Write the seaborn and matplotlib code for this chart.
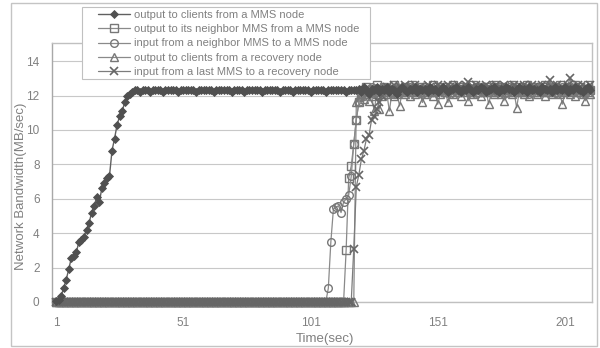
import matplotlib
matplotlib.use("Agg")
import matplotlib.pyplot as plt
import seaborn as sns

time_sec = list(range(1, 212))
x_ticks = [1, 51, 101, 151, 201]
y_ticks = [0, 2, 4, 6, 8, 10, 12, 14]

labels = [
    "output to clients from a MMS node",
    "output to its neighbor MMS from a MMS node",
    "input from a neighbor MMS to a MMS node",
    "output to clients from a recovery node",
    "input from a last MMS to a recovery node",
]

out_clients_mms = [
    0.05, 0.1, 0.35, 0.8, 1.3, 1.9, 2.55, 2.7, 2.9, 3.5, 3.6, 3.8, 4.2, 4.6, 5.2, 5.6,
    6.1, 5.8, 6.6, 6.9, 7.2, 7.3, 8.8, 9.5, 10.3, 10.8, 11.1, 11.6, 12.0, 12.1, 12.2,
    12.3, 12.3, 12.2, 12.3, 12.3, 12.3, 12.2, 12.3, 12.3, 12.3,
    12.3, 12.2, 12.3, 12.3, 12.3, 12.3, 12.3, 12.2, 12.3, 12.3,
    12.3, 12.3, 12.3, 12.3, 12.2, 12.3, 12.3, 12.3, 12.3, 12.3,
    12.3, 12.2, 12.3, 12.3, 12.3, 12.3, 12.3, 12.3, 12.2, 12.3,
    12.3, 12.3, 12.3, 12.2, 12.3, 12.3, 12.3, 12.3, 12.3, 12.3,
    12.2, 12.3, 12.3, 12.3, 12.3, 12.3, 12.3, 12.2, 12.3, 12.3,
    12.3, 12.3, 12.2, 12.3, 12.3, 12.3, 12.3, 12.3, 12.3, 12.2,
    12.3, 12.3, 12.3, 12.3, 12.3, 12.2, 12.3, 12.3, 12.3, 12.3,
    12.3, 12.3, 12.3, 12.2, 12.3, 12.3, 12.3, 12.3,
    12.4, 12.2, 12.5, 12.3, 12.1, 12.4, 12.3, 12.5, 12.2, 12.4,
    12.3, 12.5, 12.2, 12.4, 12.3, 12.1, 12.4, 12.5, 12.3, 12.2,
    12.4, 12.3, 12.5, 12.2, 12.4, 12.3, 12.4, 12.2, 12.5, 12.3,
    12.4, 12.2, 12.3, 12.5, 12.4, 12.2, 12.3, 12.4, 12.5, 12.3,
    12.2, 12.4, 12.3, 12.5, 12.3, 12.2, 12.4, 12.3, 12.5, 12.4,
    12.2, 12.3, 12.4, 12.5, 12.3, 12.2, 12.4, 12.3, 12.5, 12.4,
    12.3, 12.2, 12.4, 12.5, 12.3, 12.4, 12.2, 12.5, 12.3, 12.4,
    12.3, 12.2, 12.5, 12.4, 12.3, 12.4, 12.2, 12.5, 12.3, 12.4,
    12.3, 12.5, 12.2, 12.4, 12.3, 12.5, 12.4, 12.3, 12.2, 12.4,
    12.5, 12.3,
]

out_neighbor_mms = [
    0, 0, 0, 0, 0, 0, 0, 0, 0, 0, 0, 0, 0, 0, 0, 0, 0, 0, 0, 0,
    0, 0, 0, 0, 0, 0, 0, 0, 0, 0, 0, 0, 0, 0, 0, 0, 0, 0, 0, 0,
    0, 0, 0, 0, 0, 0, 0, 0, 0, 0, 0, 0, 0, 0, 0, 0, 0, 0, 0, 0,
    0, 0, 0, 0, 0, 0, 0, 0, 0, 0, 0, 0, 0, 0, 0, 0, 0, 0, 0, 0,
    0, 0, 0, 0, 0, 0, 0, 0, 0, 0, 0, 0, 0, 0, 0, 0, 0, 0, 0, 0,
    0, 0, 0, 0, 0, 0, 0, 0, 0, 0, 0, 0, 0, 0,
    3.0, 7.2, 7.9, 9.2, 10.6, 11.6, 12.1,
    12.3, 12.5, 12.2, 12.4, 12.3, 12.6, 12.2, 12.4, 12.5, 12.3,
    12.2, 12.4, 12.6, 12.3, 12.4, 12.2, 12.5, 12.3, 12.4, 12.6,
    12.3, 12.2, 12.4, 12.5, 12.3, 12.4, 12.2, 12.6, 12.3, 12.5,
    12.4, 12.3, 12.2, 12.5, 12.4, 12.6, 12.3, 12.2, 12.4, 12.5,
    12.3, 12.4, 12.2, 12.6, 12.3, 12.5, 12.4, 12.2, 12.3, 12.5,
    12.4, 12.6, 12.2, 12.3, 12.5, 12.4, 12.3, 12.2, 12.6, 12.4,
    12.3, 12.5, 12.2, 12.4, 12.6, 12.3, 12.5, 12.2, 12.4, 12.3,
    12.5, 12.6, 12.3, 12.2, 12.4, 12.5, 12.3, 12.6, 12.4, 12.2,
    12.5, 12.3, 12.4, 12.6, 12.2, 12.5, 12.3, 12.4, 12.6, 12.3,
]

in_neighbor_mms = [
    0, 0, 0, 0, 0, 0, 0, 0, 0, 0, 0, 0, 0, 0, 0, 0, 0, 0, 0, 0,
    0, 0, 0, 0, 0, 0, 0, 0, 0, 0, 0, 0, 0, 0, 0, 0, 0, 0, 0, 0,
    0, 0, 0, 0, 0, 0, 0, 0, 0, 0, 0, 0, 0, 0, 0, 0, 0, 0, 0, 0,
    0, 0, 0, 0, 0, 0, 0, 0, 0, 0, 0, 0, 0, 0, 0, 0, 0, 0, 0, 0,
    0, 0, 0, 0, 0, 0, 0, 0, 0, 0, 0, 0, 0, 0, 0, 0, 0, 0, 0, 0,
    0, 0, 0, 0, 0, 0, 0,
    0.8, 3.5, 5.4, 5.5, 5.6, 5.2, 5.8, 6.0, 6.2, 7.3, 9.2, 10.6, 11.6, 12.1,
    12.4, 12.2, 12.3, 12.5, 12.1, 12.4, 12.3, 12.2, 12.5, 12.4,
    12.3, 12.1, 12.4, 12.5, 12.2, 12.3, 12.4, 12.2, 12.5, 12.3,
    12.4, 12.2, 12.3, 12.1, 12.5, 12.3, 12.4, 12.2, 12.4, 12.3,
    12.5, 12.2, 12.4, 12.3, 12.1, 12.4, 12.5, 12.3, 12.2, 12.4,
    12.3, 12.5, 12.2, 12.4, 12.1, 12.3, 12.5, 12.4, 12.2, 12.3,
    12.4, 12.2, 12.5, 12.3, 12.4, 12.1, 12.3, 12.5, 12.2, 12.4,
    12.3, 12.4, 12.2, 12.5, 12.3, 12.1, 12.4, 12.3, 12.5, 12.2,
    12.4, 12.3, 12.2, 12.5, 12.4, 12.3, 12.1, 12.4, 12.5, 12.3,
    12.2, 12.4, 12.3, 12.5, 12.2, 12.4, 12.3, 12.1, 12.4, 12.3,
]

out_clients_recovery = [
    0, 0, 0, 0, 0, 0, 0, 0, 0, 0, 0, 0, 0, 0, 0, 0, 0, 0, 0, 0,
    0, 0, 0, 0, 0, 0, 0, 0, 0, 0, 0, 0, 0, 0, 0, 0, 0, 0, 0, 0,
    0, 0, 0, 0, 0, 0, 0, 0, 0, 0, 0, 0, 0, 0, 0, 0, 0, 0, 0, 0,
    0, 0, 0, 0, 0, 0, 0, 0, 0, 0, 0, 0, 0, 0, 0, 0, 0, 0, 0, 0,
    0, 0, 0, 0, 0, 0, 0, 0, 0, 0, 0, 0, 0, 0, 0, 0, 0, 0, 0, 0,
    0, 0, 0, 0, 0, 0, 0, 0, 0, 0, 0, 0, 0, 0, 0, 0, 0, 0,
    11.6, 11.9, 12.0, 11.8, 12.1, 11.7, 12.0, 11.1, 12.1, 11.2,
    12.0, 12.2, 12.1, 11.1, 12.2, 12.0, 12.1, 11.4, 12.2, 12.1,
    12.3, 12.0, 12.2, 12.1, 12.3, 12.2, 11.6, 12.1, 12.3, 12.2,
    12.0, 12.2, 11.5, 12.1, 12.3, 12.2, 11.6, 12.2, 12.1, 12.3,
    12.2, 12.0, 12.2, 12.3, 11.7, 12.2, 12.1, 12.3, 12.2, 12.0,
    12.2, 12.3, 11.5, 12.2, 12.1, 12.3, 12.2, 12.1, 11.7, 12.2,
    12.3, 12.1, 12.2, 11.3, 12.2, 12.3, 12.1, 12.2, 12.0, 12.3,
    12.2, 12.1, 12.3, 12.2, 12.0, 12.2, 12.3, 12.1, 12.2, 12.3,
    12.1, 11.5, 12.2, 12.3, 12.1, 12.2, 12.0, 12.3, 12.2, 12.1,
    11.7, 12.2, 12.1,
]

in_last_mms_recovery = [
    0, 0, 0, 0, 0, 0, 0, 0, 0, 0, 0, 0, 0, 0, 0, 0, 0, 0, 0, 0,
    0, 0, 0, 0, 0, 0, 0, 0, 0, 0, 0, 0, 0, 0, 0, 0, 0, 0, 0, 0,
    0, 0, 0, 0, 0, 0, 0, 0, 0, 0, 0, 0, 0, 0, 0, 0, 0, 0, 0, 0,
    0, 0, 0, 0, 0, 0, 0, 0, 0, 0, 0, 0, 0, 0, 0, 0, 0, 0, 0, 0,
    0, 0, 0, 0, 0, 0, 0, 0, 0, 0, 0, 0, 0, 0, 0, 0, 0, 0, 0, 0,
    0, 0, 0, 0, 0, 0, 0, 0, 0, 0, 0, 0, 0, 0, 0, 0, 0,
    3.1, 6.7, 7.4, 8.3, 8.8, 9.5, 9.7, 10.6, 10.8, 11.2, 11.6, 12.0,
    12.3, 12.5, 12.4, 12.2, 12.6, 12.4, 12.5, 12.3, 12.6, 12.4,
    12.5, 12.3, 12.6, 12.4, 12.5, 12.3, 12.4, 12.6, 12.5, 12.3,
    12.4, 12.6, 12.5, 12.3, 12.4, 12.6, 12.5, 12.4, 12.3, 12.6,
    12.5, 12.4, 12.6, 12.8, 12.5, 12.4, 12.6, 12.3, 12.5, 12.4,
    12.6, 12.5, 12.3, 12.4, 12.6, 12.5, 12.4, 12.6, 12.3, 12.5,
    12.4, 12.6, 12.5, 12.4, 12.3, 12.6, 12.5, 12.4, 12.6, 12.5,
    12.3, 12.4, 12.6, 12.5, 12.4, 12.9, 12.5, 12.4, 12.6, 12.3,
    12.5, 12.4, 12.6, 13.0, 12.5, 12.4, 12.6, 12.5, 12.3, 12.5,
    12.4, 12.6,
]

series = [out_clients_mms, out_neighbor_mms, in_neighbor_mms,
          out_clients_recovery, in_last_mms_recovery]
for s in series:
    assert len(s) == len(time_sec), len(s)

sns.set_theme(style="white")
plt.rcParams["font.family"] = ["Liberation Sans", "DejaVu Sans"]

W, H = 600, 348
fig = plt.figure(figsize=(W / 100, H / 100), dpi=100)
fig.patch.set_facecolor("white")
# outer chart frame
fig.add_artist(plt.Rectangle((11 / W, 2 / H), 586 / W, 343 / H,
                             transform=fig.transFigure, fill=False,
                             edgecolor="#c4c4c4", lw=1, zorder=0))

ax_l, ax_r, ax_t, ax_b = 52, 592, 43, 302
ax = fig.add_axes([ax_l / W, (H - ax_b) / H, (ax_r - ax_l) / W, (ax_b - ax_t) / H])
ax.set_facecolor("white")

styles = [
    dict(marker="D", markersize=4.2, markerfacecolor="#505050", markeredgecolor="#505050",
         color="#606060", lw=1.0, mew=0.6),
    dict(marker="s", markersize=5.5, markerfacecolor="none", markeredgecolor="#777777",
         color="#8a8a8a", lw=0.9, mew=1.0),
    dict(marker="o", markersize=5.5, markerfacecolor="none", markeredgecolor="#777777",
         color="#8a8a8a", lw=0.9, mew=1.0),
    dict(marker="^", markersize=6, markerfacecolor="none", markeredgecolor="#777777",
         color="#8a8a8a", lw=0.9, mew=1.0),
    dict(marker="x", markersize=5.5, markerfacecolor="#666666", markeredgecolor="#666666",
         color="#7c7c7c", lw=0.9, mew=1.2),
]

order = [3, 1, 2, 4, 0]
for i in order:
    sns.lineplot(x=time_sec, y=series[i], ax=ax, label=labels[i], clip_on=False,
                 zorder=3 + (1 if i == 0 else 0), legend=True, **styles[i])

ax.set_xlim(1 - 4 / 2.545, 1 + (ax_r - 56) / 2.545)
ax.set_ylim(0, (ax_b - ax_t) / 17.2)
ax.set_xticks(x_ticks)
ax.set_yticks(y_ticks)
ax.grid(axis="y", color="#c8c8c8", lw=0.8, zorder=0)
ax.grid(axis="x", visible=False)
ax.tick_params(axis="both", length=0, labelcolor="#808080", labelsize=8.5)
ax.tick_params(axis="x", pad=10.5)
ax.tick_params(axis="y", pad=9)
for side, sp in ax.spines.items():
    sp.set_visible(True)
    sp.set_color("#a8a8a8" if side == "left" else "#c0c0c0")
    sp.set_linewidth(1.0)

ax.set_xlabel("Time(sec)", fontsize=9.5, color="#808080")
ax.set_ylabel("Network Bandwidth(MB/sec)", fontsize=9.5, color="#808080")
ax.xaxis.set_label_coords((325 - ax_l) / (ax_r - ax_l), (ax_b - 333) / (ax_b - ax_t))
ax.yaxis.set_label_coords((27 - ax_l) / (ax_r - ax_l), (ax_b - 186) / (ax_b - ax_t))

handles, labs = ax.get_legend_handles_labels()
hmap = dict(zip(labs, handles))
ax.get_legend().remove()

# legend box (white, covers the top of the plot area)
fig.add_artist(plt.Rectangle((82 / W, (H - 79) / H), 288 / W, 72 / H,
                             transform=fig.transFigure, facecolor="white",
                             edgecolor="#c0c0c0", lw=0.8, zorder=2))
leg = fig.legend([hmap[l] for l in labels], labels, loc="upper left",
                 bbox_to_anchor=(98 / W, 1 - 10 / H), bbox_transform=fig.transFigure,
                 frameon=False, fontsize=8, handlelength=2.9, labelspacing=0.38,
                 borderpad=0, handletextpad=0.3, borderaxespad=0)
for t in leg.get_texts():
    t.set_color("#808080")
leg.set_zorder(3)

fig.savefig("out.png", dpi=100, facecolor="white")
